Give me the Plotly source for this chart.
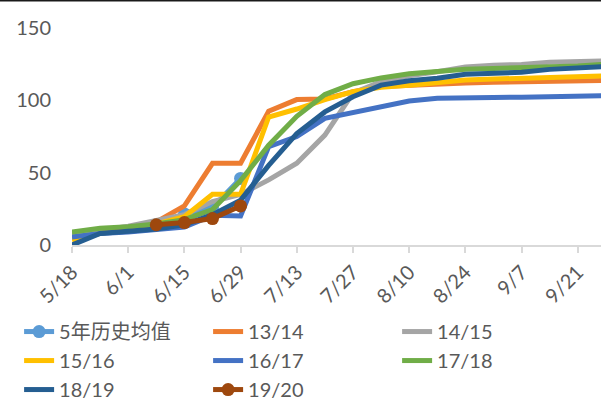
import plotly.graph_objects as go

# Weekly dates (season week starts)
weeks = ["2019-05-18", "2019-05-25", "2019-06-01", "2019-06-08", "2019-06-15",
         "2019-06-22", "2019-06-29", "2019-07-06", "2019-07-13", "2019-07-20",
         "2019-07-27", "2019-08-03", "2019-08-10", "2019-08-17", "2019-08-24",
         "2019-08-31", "2019-09-07", "2019-09-14", "2019-09-21", "2019-09-28"]

avg_5yr = [None, None, None, 14, 21.5, 26, 46] + [None] * 13
s13_14 = [5, 8, 11, 16, 27, 56.5, 56.5, 92.5, 100.5, 101, 106, 109.5, 110.5,
          111.3, 112, 112.5, 112.9, 113.3, 113.6, 113.8]
s14_15 = [7, 10, 13, 17, 21, 30, 35, 45, 56.5, 76, 105, 113, 117, 119.8, 123,
          124.2, 124.8, 126.3, 126.8, 127.2]
s15_16 = [3.5, 8, 11, 14.5, 19.5, 35, 35, 88.5, 94, 100.5, 106, 109, 110.5,
          112.2, 114, 114.7, 115.2, 115.9, 116.4, 116.9]
s16_17 = [5.5, 8, 9, 10.5, 12.5, 20.5, 20, 68, 75, 87.5, 91.5, 96, 99.5, 101.5,
          102, 102, 102.1, 102.4, 102.8, 103.2]
s17_18 = [9, 11.5, 12.7, 14.5, 17.5, 24.5, 44.5, 69, 89, 104, 111.5, 115.5,
          118.3, 119.8, 121.5, 122, 122.5, 123.2, 123.8, 125]
s18_19 = [0, 8, 9.5, 11, 14, 21, 31, 55, 77, 92, 102.5, 110.5, 113.5, 115.2,
          118, 118.7, 119.4, 121.4, 122.1, 123.3]
s19_20 = [None, None, None, 14, 15.5, 18.3, 27] + [None] * 13

series = [
    ("5年历史均值", avg_5yr, "#5B9BD5", True),
    ("13/14", s13_14, "#ED7D31", False),
    ("14/15", s14_15, "#A5A5A5", False),
    ("15/16", s15_16, "#FFC000", False),
    ("16/17", s16_17, "#4472C4", False),
    ("17/18", s17_18, "#70AD47", False),
    ("18/19", s18_19, "#255E91", False),
    ("19/20", s19_20, "#9E480E", True),
]

FONT = "Lato, 'Noto Sans CJK SC', sans-serif"
TXT = "#595959"

fig = go.Figure()
for name, vals, color, markers in series:
    fig.add_trace(go.Scatter(
        x=weeks, y=vals, name=name,
        mode="lines+markers" if markers else "lines",
        line=dict(color=color, width=5),
        marker=dict(size=13, color=color),
        connectgaps=False,
    ))

fig.update_layout(
    width=601, height=401,
    margin=dict(l=72, r=0, t=28, b=156, autoexpand=False),
    paper_bgcolor="white", plot_bgcolor="white",
    font=dict(family=FONT, size=20, color=TXT),
    showlegend=True,
    legend=dict(
        orientation="h", x=-0.1, xanchor="left", y=-0.309, yanchor="top",
        entrywidth=144, entrywidthmode="pixels",
        font=dict(family=FONT, size=20, color=TXT),
        bgcolor="rgba(0,0,0,0)", itemwidth=30,
    ),
    xaxis=dict(
        type="date", automargin=False,
        range=["2019-05-18", "2019-09-26 19:00"],
        tick0="2019-05-18", dtick=14 * 86400000,
        tickformat="%-m/%-d", tickangle=-45,
        ticks="outside", ticklen=6, tickcolor="#D9D9D9", tickwidth=1.5,
        showline=True, linecolor="#D9D9D9", linewidth=1.5,
        showgrid=False, zeroline=False,
        tickfont=dict(family=FONT, size=20, color=TXT),
    ),
    yaxis=dict(
        range=[0, 150], tickvals=[0, 50, 100, 150], automargin=False,
        showgrid=False, zeroline=False, showline=False,
        ticklabelstandoff=20,
        tickfont=dict(family=FONT, size=20, color=TXT),
    ),
    shapes=[dict(type="line", xref="paper", yref="paper",
                 x0=-0.2, x1=1.1, y0=1.127, y1=1.127,
                 line=dict(color="#1a1a1a", width=2))],
)

fig.write_html("out.html")
